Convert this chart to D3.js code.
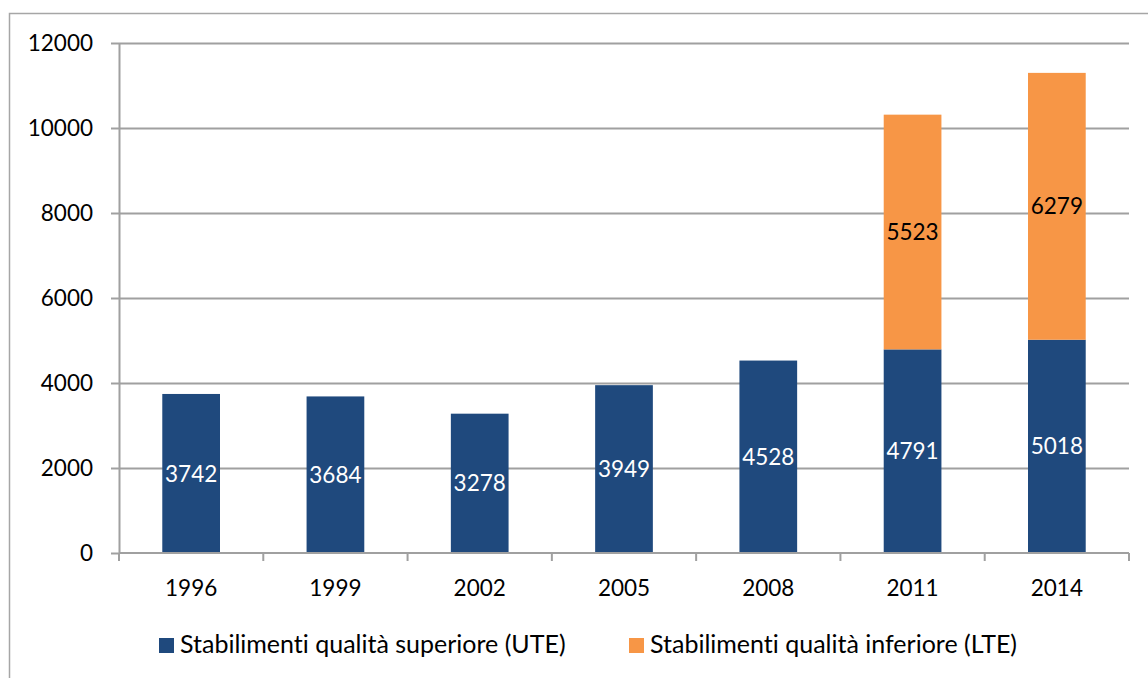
<!DOCTYPE html>
<html>
<head>
<meta charset="utf-8">
<script src="https://cdn.jsdelivr.net/npm/d3@7"></script>
<style>
  body { margin: 0; background: #fff; }
  svg text { font-family: Lato, "Open Sans", sans-serif; font-variant-ligatures: none; }
  .grid line { stroke: #a0a0a0; stroke-width: 2; }
  .grid .domain { display: none; }
  .axis .domain, .axis line { stroke: #a0a0a0; stroke-width: 2; }
  .axis text { fill: #000; font-size: 22.5px; }
</style>
</head>
<body>
<div id="chart"></div>
<script>
var years = ["1996", "1999", "2002", "2005", "2008", "2011", "2014"];
var ute = [3742, 3684, 3278, 3949, 4528, 4791, 5018];
var lte = [null, null, null, null, null, 5523, 6279];
var yTicks = [0, 2000, 4000, 6000, 8000, 10000, 12000];
var seriesNames = ["Stabilimenti qualità superiore (UTE)", "Stabilimenti qualità inferiore (LTE)"];
var colors = ["#1f497d", "#f79646"];

var svg = d3.select("#chart").append("svg")
    .attr("width", 1148)
    .attr("height", 678);

// chart border
svg.append("rect")
    .attr("x", 9.5).attr("y", 13.5)
    .attr("width", 1200).attr("height", 700)
    .attr("fill", "none")
    .attr("stroke", "#a6a6a6")
    .attr("stroke-width", 1.5);

var margin = {top: 43, left: 119, right: 19, bottom: 125};
var width = 1148 - margin.left - margin.right;
var height = 678 - margin.top - margin.bottom;

var g = svg.append("g").attr("transform", "translate(" + margin.left + "," + margin.top + ")");

var x = d3.scaleBand().domain(years).range([0, width]).paddingInner(0.6).paddingOuter(0.3);
var xEdge = d3.scaleLinear().domain([0, years.length]).range([0, width]);
var y = d3.scaleLinear().domain([0, 12000]).range([height, 0]);

// gridlines
g.append("g")
    .attr("class", "grid")
    .call(d3.axisLeft(y).tickValues(yTicks.slice(1)).tickSize(-width).tickFormat(""));

// y axis
g.append("g")
    .attr("class", "axis")
    .call(d3.axisLeft(y).tickValues(yTicks).tickSize(8).tickSizeOuter(0).tickPadding(18).tickFormat(d3.format("d")));

// stacked data
var rows = years.map(function(yr, i) { return {year: yr, ute: ute[i], lte: lte[i] || 0}; });
var stack = d3.stack().keys(["ute", "lte"])(rows);

stack.forEach(function(layer, k) {
  var segs = layer.filter(function(d) { return d[1] > d[0]; });
  var bars = g.append("g");
  bars.selectAll("rect")
      .data(segs)
      .enter().append("rect")
      .attr("x", function(d) { return x(d.data.year); })
      .attr("width", x.bandwidth())
      .attr("y", function(d) { return y(d[1]); })
      .attr("height", function(d) { return y(d[0]) - y(d[1]); })
      .attr("fill", colors[k]);
  bars.selectAll("text")
      .data(segs)
      .enter().append("text")
      .attr("x", function(d) { return x(d.data.year) + x.bandwidth() / 2; })
      .attr("y", function(d) { return y((d[0] + d[1]) / 2); })
      .attr("dy", "0.36em")
      .attr("text-anchor", "middle")
      .attr("font-size", "22.5px")
      .attr("fill", k === 0 ? "#fff" : "#000")
      .text(function(d) { return d[1] - d[0]; });
});

// x axis line and category ticks
var xa = g.append("g")
    .attr("class", "axis")
    .attr("transform", "translate(0," + height + ")");
xa.append("line").attr("x1", 0).attr("x2", width).attr("y1", 0).attr("y2", 0);
xa.selectAll("line.tick")
    .data(d3.range(years.length + 1))
    .enter().append("line")
    .attr("class", "tick")
    .attr("x1", function(d) { return xEdge(d); })
    .attr("x2", function(d) { return xEdge(d); })
    .attr("y1", 0).attr("y2", 8);
xa.selectAll("text")
    .data(years)
    .enter().append("text")
    .attr("x", function(d) { return x(d) + x.bandwidth() / 2; })
    .attr("y", 43)
    .attr("text-anchor", "middle")
    .text(function(d) { return d; });

// legend
var legendX = [159, 629];
var legend = svg.append("g");
seriesNames.forEach(function(name, i) {
  legend.append("rect")
      .attr("x", legendX[i]).attr("y", 638)
      .attr("width", 15).attr("height", 15)
      .attr("fill", colors[i]);
  legend.append("text")
      .attr("x", legendX[i] + 21).attr("y", 653)
      .attr("font-size", "25px")
      .attr("fill", "#000")
      .text(name);
});
</script>
</body>
</html>
